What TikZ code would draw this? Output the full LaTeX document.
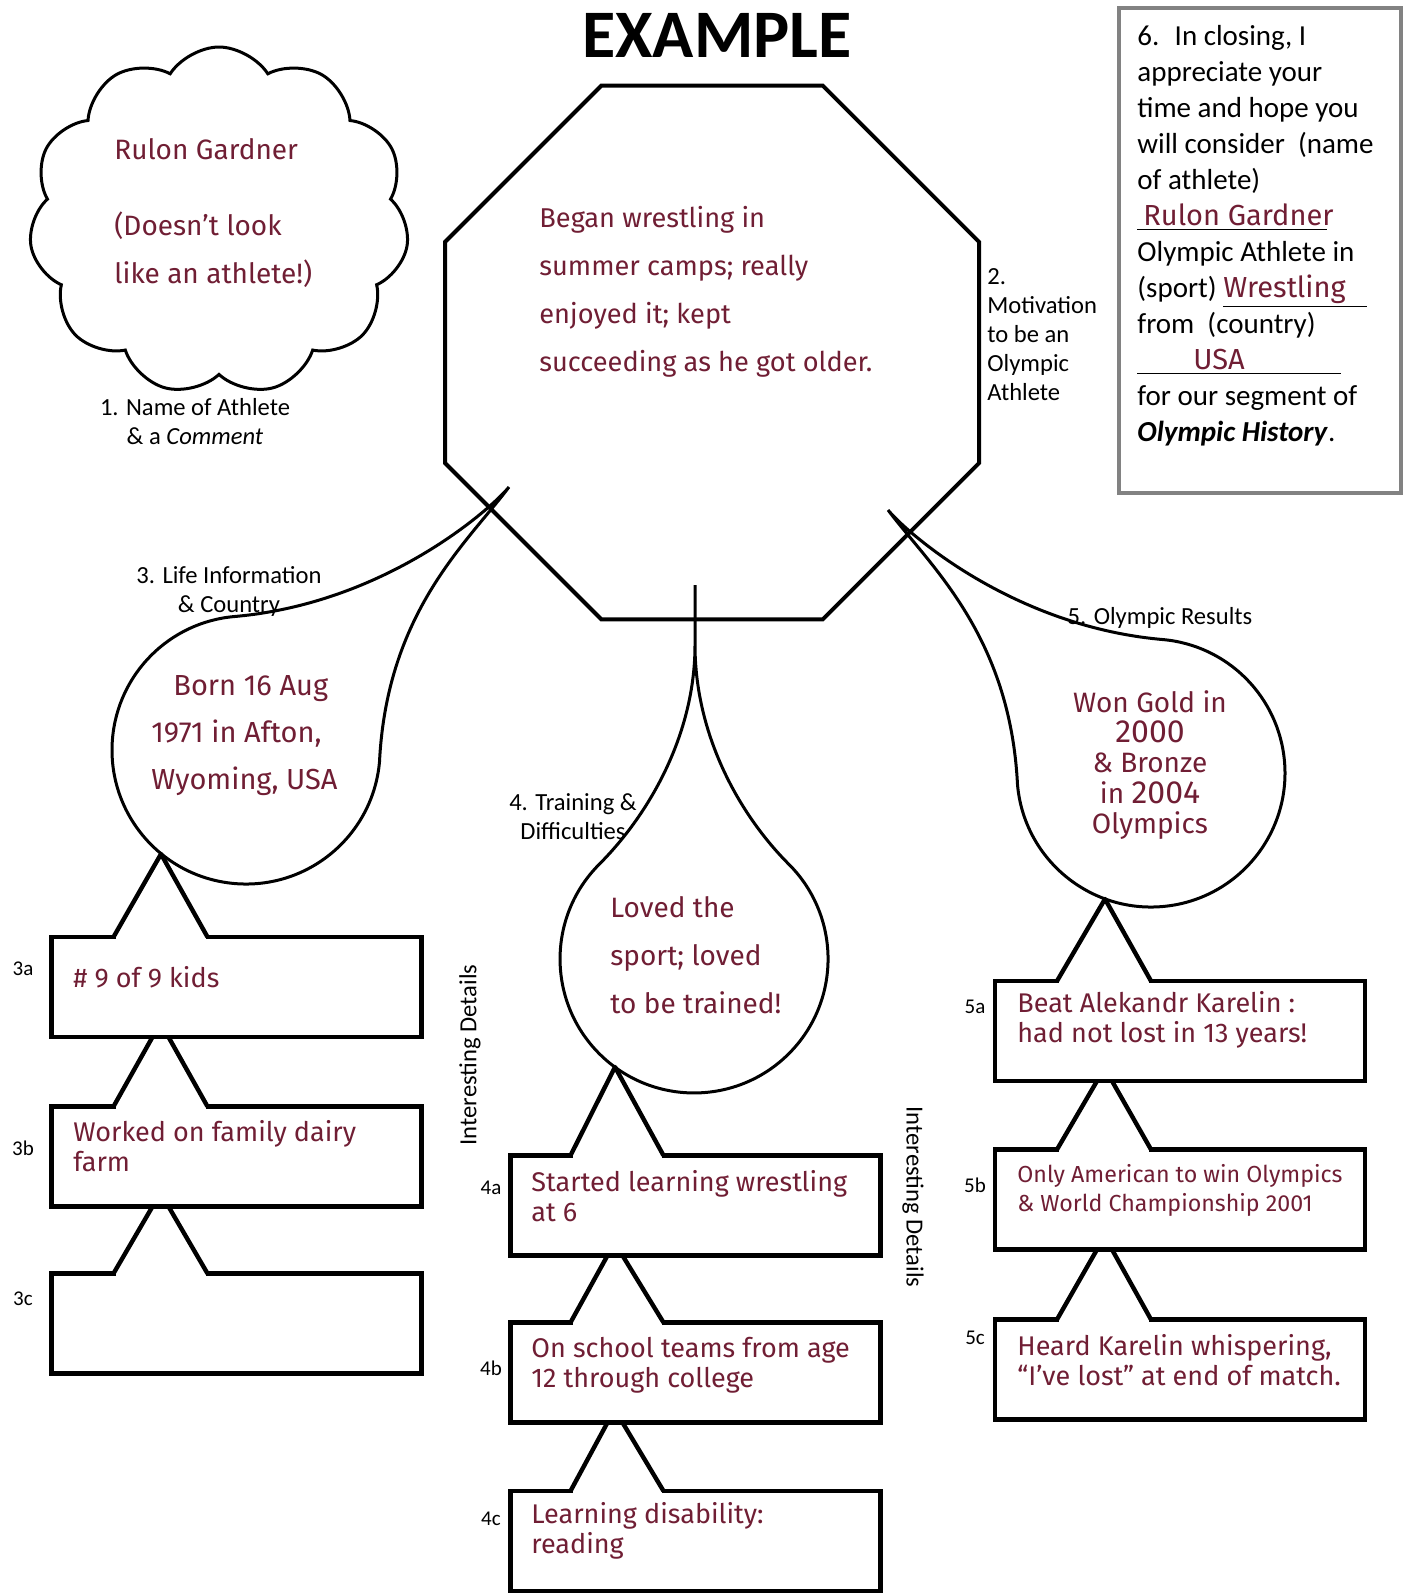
\documentclass[tikz,border=0pt]{standalone}
\usepackage{fontspec}
\setmainfont{Carlito}
\newfontfamily\handfont{Fira Sans}
\usetikzlibrary{shapes.geometric,shapes.symbols,calc}
\definecolor{maroon}{RGB}{112,30,52}
\definecolor{framegray}{RGB}{130,130,130}

\begin{document}
\begin{tikzpicture}[x=0.5pt,y=-0.5pt,
    box/.style={draw,line width=2.2pt,fill=white,minimum width=185pt,minimum height=50pt,inner sep=0pt,outer sep=0pt},
    hand/.style={font=\handfont\fontsize{13.5}{15}\selectfont,text=maroon,align=left,inner sep=0pt},
    lbl/.style={font=\fontsize{12.3}{14.5}\selectfont,align=center,inner sep=0pt},
    tag/.style={font=\fontsize{10.5}{12}\selectfont,inner sep=0pt},
    dropline/.style={line width=1.5pt,line join=round},
    notch/.style={line width=2.2pt,line join=round}]
    \fill[white] (0,0) rectangle (1405,1595);

    %Nodes
    \node[font=\bfseries\fontsize{34}{34}\selectfont] at (717,35) (title) {EXAMPLE};
    \node[cloud,cloud puffs=11,cloud puff arc=115,aspect=1.1,draw,line width=1.5pt,minimum width=190pt,minimum height=174pt] at (219,221) (cloud) {};
    \node[hand,anchor=west,font=\handfont\fontsize{14}{24}\selectfont] at (114,213) (name) {Rulon Gardner\\[14pt](Doesn’t look\\like an athlete!)};
    \node[lbl] at (195,422) (l1) {1. Name of Athlete\\\& a \textit{Comment}};
    \node[regular polygon,regular polygon sides=8,draw,line width=2pt,minimum size=289pt,inner sep=0pt] at (712,352.5) (oct) {};
    \node[hand,anchor=west,font=\handfont\fontsize{13.6}{24}\selectfont] at (539,292) (motiv) {Began wrestling in\\summer camps; really\\enjoyed it; kept\\succeeding as he got older.};
    \node[lbl,align=left,anchor=west] at (987,335) (l2) {2.\\Motivation\\to be an\\Olympic\\Athlete};

    \node[draw=framegray,line width=1.6pt,minimum width=141pt,minimum height=242.5pt,inner sep=0pt] at (1260,250.5) (closing) {};
    \node[anchor=west,align=left,inner sep=0pt,font=\fontsize{14.5}{18}\selectfont] at (1137,236) (closetxt) {6.~ In closing, I\\
        appreciate your\\
        time and hope you\\
        will consider~ (name\\
        of athlete)\\
        \underline{\makebox[95pt][l]{\hspace{3pt}\handfont\color{maroon}Rulon Gardner}}\\
        Olympic Athlete in\\
        (sport) \underline{\makebox[72pt][l]{\handfont\color{maroon}Wrestling}}\\
        from~ (country)\\
        \underline{\makebox[102pt][l]{\hspace{28pt}\handfont\color{maroon}USA}}\\
        for our segment of\\
        \textbf{\textit{Olympic History}}.};

    \node[lbl] at (229,591) (l3) {3. Life Information\\\& Country};
    \node[hand,anchor=west,font=\handfont\fontsize{14.5}{23.5}\selectfont] at (151,736) (life) {\hspace*{11pt}Born 16 Aug\\1971 in Afton,\\Wyoming, USA};
    \node[lbl] at (573,817) (l4) {4. Training \&\\Difficulties};
    \node[hand,anchor=west,font=\handfont\fontsize{14}{24}\selectfont] at (610,955) (train) {Loved the\\sport; loved\\to be trained!};
    \node[lbl] at (1160,618) (l5) {5. Olympic Results};
    \node[hand,align=center,font=\handfont\fontsize{14}{15.2}\selectfont] at (1150,765) (results) {Won Gold in\\{\fontsize{16}{15.2}\selectfont 2000}\\\& Bronze\\in {\fontsize{16}{15.2}\selectfont 2004}\\Olympics};

    \node[lbl,rotate=90] at (470,1055) (det1) {Interesting Details};
    \node[lbl,rotate=-90] at (913,1197) (det2) {Interesting Details};

    \node[box] at (236.5,987) (b3a) {};
    \node[box] at (236.5,1156.5) (b3b) {};
    \node[box] at (236.5,1323.5) (b3c) {};
    \node[box] at (695.5,1205.5) (b4a) {};
    \node[box] at (695.5,1372.5) (b4b) {};
    \node[box] at (695.5,1541) (b4c) {};
    \node[box] at (1180,1031) (b5a) {};
    \node[box] at (1180,1199.5) (b5b) {};
    \node[box] at (1180,1369.5) (b5c) {};

    \node[hand,anchor=west] at (73,977) (t3a) {\# 9 of 9 kids};
    \node[hand,anchor=west] at (73,1146) (t3b) {Worked on family dairy\\farm};
    \node[hand,anchor=west] at (531,1196) (t4a) {Started learning wrestling\\at 6};
    \node[hand,anchor=west] at (531,1365) (t4b) {On school teams from age\\12 through college};
    \node[hand,anchor=west] at (531,1531) (t4c) {Learning disability:\\reading};
    \node[hand,anchor=west] at (1017,1020) (t5a) {Beat Alekandr Karelin :\\had not lost in 13 years!};
    \node[hand,anchor=west,font=\handfont\fontsize{11.6}{14.5}\selectfont] at (1017,1190) (t5b) {Only American to win Olympics\\\& World Championship 2001};
    \node[hand,anchor=west] at (1017,1360) (t5c) {Heard Karelin whispering,\\“I’ve lost” at end of match.};

    \node[tag] at (23,969) (n3a) {3a};
    \node[tag] at (23,1148) (n3b) {3b};
    \node[tag] at (23,1299) (n3c) {3c};
    \node[tag] at (491,1188) (n4a) {4a};
    \node[tag] at (491,1368) (n4b) {4b};
    \node[tag] at (491,1519) (n4c) {4c};
    \node[tag] at (975,1007) (n5a) {5a};
    \node[tag] at (975,1185) (n5b) {5b};
    \node[tag] at (975,1338) (n5c) {5c};

    \coordinate (d3) at (161,854);
    \coordinate (d4) at (615,1067);
    \coordinate (d5) at (1105,899);

    %Drops
    \draw[dropline,shift={(246,750)}] (263,-263) .. controls (221,-207) and (141,-138) .. (133.5,11.7)
        arc[start angle=5,end angle=265,radius=134] .. controls (138,-146.5) and (244,-240) .. (263,-263);
    \draw[dropline] (695,585) -- (695,645) .. controls (695,735) and (739.3,814.7) .. (788.8,864.2)
        arc[start angle=-45,end angle=225,radius=134] .. controls (648.7,814.7) and (695,735) .. (695,645);
    \draw[dropline,shift={(1151,773)},xscale=-1] (263,-263) .. controls (221,-207) and (141,-138) .. (133.5,11.7)
        arc[start angle=5,end angle=265,radius=134] .. controls (138,-146.5) and (244,-240) .. (263,-263);

    %Lines
    \fill[white] ($(b3a.north west)+(64,-3)$) rectangle ($(b3a.north west)+(154,3)$);
    \draw[notch] ($(b3a.north west)+(62,0)$) -- (d3) -- ($(b3a.north west)+(156,0)$);
    \fill[white] ($(b3b.north west)+(64,-3)$) rectangle ($(b3b.north west)+(154,3)$);
    \draw[notch] ($(b3b.north west)+(62,0)$) -- ($(b3a.south west)+(101,0)$) ($(b3a.south west)+(117,0)$) -- ($(b3b.north west)+(156,0)$);
    \fill[white] ($(b3c.north west)+(64,-3)$) rectangle ($(b3c.north west)+(154,3)$);
    \draw[notch] ($(b3c.north west)+(62,0)$) -- ($(b3b.south west)+(101,0)$) ($(b3b.south west)+(117,0)$) -- ($(b3c.north west)+(156,0)$);

    \fill[white] ($(b4a.north west)+(62,-3)$) rectangle ($(b4a.north west)+(151,3)$);
    \draw[notch] ($(b4a.north west)+(60,0)$) -- (d4) -- ($(b4a.north west)+(153,0)$);
    \fill[white] ($(b4b.north west)+(62,-3)$) rectangle ($(b4b.north west)+(151,3)$);
    \draw[notch] ($(b4b.north west)+(60,0)$) -- ($(b4a.south west)+(97,0)$) ($(b4a.south west)+(112,0)$) -- ($(b4b.north west)+(153,0)$);
    \fill[white] ($(b4c.north west)+(62,-3)$) rectangle ($(b4c.north west)+(151,3)$);
    \draw[notch] ($(b4c.north west)+(60,0)$) -- ($(b4b.south west)+(97,0)$) ($(b4b.south west)+(112,0)$) -- ($(b4c.north west)+(153,0)$);

    \fill[white] ($(b5a.north west)+(64,-3)$) rectangle ($(b5a.north west)+(154,3)$);
    \draw[notch] ($(b5a.north west)+(62,0)$) -- (d5) -- ($(b5a.north west)+(156,0)$);
    \fill[white] ($(b5b.north west)+(64,-3)$) rectangle ($(b5b.north west)+(154,3)$);
    \draw[notch] ($(b5b.north west)+(62,0)$) -- ($(b5a.south west)+(102,0)$) ($(b5a.south west)+(117,0)$) -- ($(b5b.north west)+(156,0)$);
    \fill[white] ($(b5c.north west)+(64,-3)$) rectangle ($(b5c.north west)+(154,3)$);
    \draw[notch] ($(b5c.north west)+(62,0)$) -- ($(b5b.south west)+(102,0)$) ($(b5b.south west)+(117,0)$) -- ($(b5c.north west)+(156,0)$);
\end{tikzpicture}
\end{document}
